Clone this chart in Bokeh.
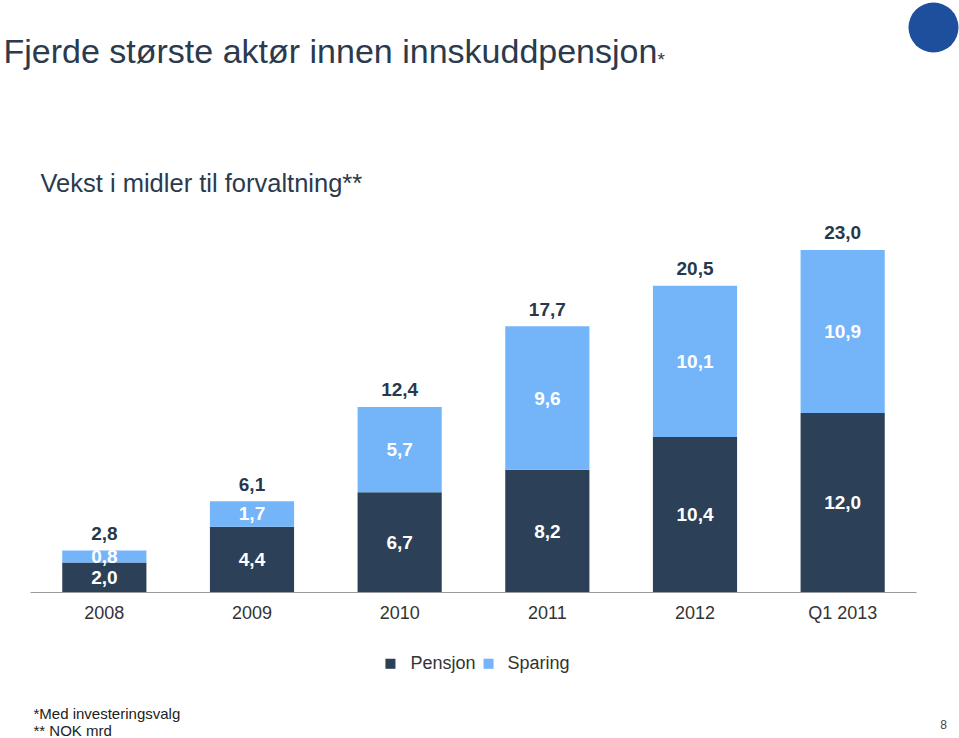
from bokeh.plotting import figure
from bokeh.layouts import column
from bokeh.models import ColumnDataSource, Label, Range1d, FixedTicker
from bokeh.core.properties import value
from bokeh.embed import file_html
from bokeh.resources import INLINE

categories = ["2008", "2009", "2010", "2011", "2012", "Q1 2013"]
pensjon = [2.0, 4.4, 6.7, 8.2, 10.4, 12.0]
sparing = [0.8, 1.7, 5.7, 9.6, 10.1, 10.9]
totals = [2.8, 6.1, 12.4, 17.7, 20.5, 23.0]
series_names = ["Pensjon", "Sparing"]


def fmt(v):
    return f"{v:.1f}".replace(".", ",")


DARK = "#2c4158"
LIGHT = "#74b5fa"
TEXT = "#27384b"
TITLE = "#2b3a4c"
LOGO = "#1e4f9c"
FONT = "Liberation Sans"

W = 959
H_A, H_B = 630, 108
BASE = 592            # pixel row of the bar baseline
PLOT_L, PLOT_R = 30, 916
n = len(categories)
UX = (PLOT_R - PLOT_L) / n    # px per category
PXY = 14.96                   # px per NOK mrd
pad = 17 / PXY
X0 = -0.5 - PLOT_L / UX

xs = list(range(n))
src = ColumnDataSource(dict(
    x=xs,
    Pensjon=pensjon,
    Sparing=sparing,
    pens_mid=[a / 2 for a in pensjon],
    spar_mid=[a + b / 2 for a, b in zip(pensjon, sparing)],
    top_y=[a + b + pad for a, b in zip(pensjon, sparing)],
    pens_lab=[fmt(v) for v in pensjon],
    spar_lab=[fmt(v) for v in sparing],
    tot_lab=[fmt(v) for v in totals],
))

# ---------------- main chart ----------------
pa = figure(width=W, height=H_A, output_backend="svg", toolbar_location=None,
            x_range=Range1d(X0, n - 0.5 + (W - PLOT_R) / UX),
            y_range=Range1d(-1 / PXY, BASE / PXY),
            y_axis_location=None,
            min_border_left=0, min_border_right=0, min_border_top=0,
            min_border_bottom=H_A - BASE - 1)
pa.outline_line_color = None
pa.xgrid.grid_line_color = None
pa.ygrid.grid_line_color = None

rs = pa.vbar_stack(series_names, x="x", width=0.57, color=[DARK, LIGHT],
                   line_width=0, source=src)
pa.segment(x0=[-0.5], x1=[n - 0.5], y0=[0], y1=[0], line_color="#9a9a9a", line_width=1.2)

common = dict(text_font=value(FONT), text_font_size="19px", text_align="center",
              text_baseline="middle", text_font_style="bold")
pa.text(x="x", y="pens_mid", text="pens_lab", text_color="white", source=src, **common)
pa.text(x="x", y="spar_mid", text="spar_lab", text_color="white", source=src, **common)
pa.text(x="x", y="top_y", text="tot_lab", text_color=TEXT, source=src, **common)

ax = pa.xaxis[0]
ax.ticker = FixedTicker(ticks=xs)
ax.major_label_overrides = {i: c for i, c in enumerate(categories)}
ax.axis_line_color = None
ax.major_tick_line_color = None
ax.minor_tick_line_color = None
ax.major_label_text_font = FONT
ax.major_label_text_font_size = "18px"
ax.major_label_text_color = "#333333"
ax.major_label_standoff = 3

# company logo (decorative blue disc, top right)
pa.scatter(x=[X0 + 933 / UX], y=[(BASE - 27) / PXY], size=50, marker="circle",
           fill_color=LOGO, line_color=None)


def lab(fig, bottom, text, x, y, size, color="#333333", style="normal",
        baseline="middle", align="left", font=FONT):
    fig.add_layout(Label(text=text, x=x, y=bottom - y, x_units="screen",
                         y_units="screen", text_font=font, text_font_size=size,
                         text_color=color, text_font_style=style,
                         text_baseline=baseline, text_align=align))


lab(pa, BASE + 1, "Fjerde største aktør innen innskuddpensjon", 3, 50, "34px", color=TITLE)
lab(pa, BASE + 1, "*", 657, 59, "19px", color=TITLE)
lab(pa, BASE + 1, "Vekst i midler til forvaltning**", 40, 182, "25.5px", color=TITLE)

# ---------------- legend + footnotes ----------------
pb = figure(width=W, height=H_B, output_backend="svg", toolbar_location=None,
            x_range=Range1d(0, W), y_range=Range1d(0, H_B),
            x_axis_location=None, y_axis_location=None,
            min_border_left=0, min_border_right=0, min_border_top=0,
            min_border_bottom=0)
pb.outline_line_color = None
pb.xgrid.grid_line_color = None
pb.ygrid.grid_line_color = None

BOT = H_A + H_B
legend_x = [(390, 410), (488, 507)]
for name, colr, (sx, tx) in zip(series_names, [DARK, LIGHT], legend_x):
    lab(pb, BOT, "\u25a0", sx, 662, "13px", color=colr, align="center", font="DejaVu Sans")
    lab(pb, BOT, name, tx, 662, "18px", color="#333333")

lab(pb, BOT, "*Med investeringsvalg", 33, 713, "15px", color="#222222")
lab(pb, BOT, "** NOK mrd", 33, 730, "15px", color="#222222")
lab(pb, BOT, "8", 943, 724, "12px", color="#444444", align="center")

layout = column(pa, pb, spacing=0)
open("out.html", "w").write(file_html(layout, INLINE))
